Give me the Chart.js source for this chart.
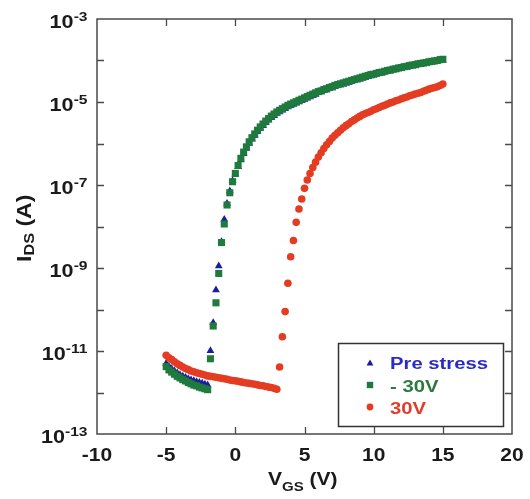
<!DOCTYPE html>
<html><head><meta charset="utf-8">
<script src="https://cdn.jsdelivr.net/npm/chart.js@4.4.1/dist/chart.umd.min.js"></script>
<style>html,body{margin:0;padding:0;background:#fff;}</style>
</head><body>
<canvas id="c" width="530" height="499"></canvas>
<script>
// ---- data ----
const vgs = [-5,-4.8,-4.6,-4.4,-4.2,-4,-3.8,-3.6,-3.4,-3.2,-3,-2.8,-2.6,-2.4,-2.2,-2,-1.8,-1.6,-1.4,-1.2,-1,-0.8,-0.6,-0.4,-0.2,
  0,0.2,0.4,0.6,0.8,1,1.2,1.4,1.6,1.8,2,2.2,2.4,2.6,2.8,3,3.2,3.4,3.6,3.8,4,4.2,4.4,4.6,4.8,5,5.2,5.4,5.6,5.8,
  6,6.2,6.4,6.6,6.8,7,7.2,7.4,7.6,7.8,8,8.2,8.4,8.6,8.8,9,9.2,9.4,9.6,9.8,10,10.2,10.4,10.6,10.8,11,11.2,11.4,11.6,11.8,
  12,12.2,12.4,12.6,12.8,13,13.2,13.4,13.6,13.8,14,14.2,14.4,14.6,14.8,15];

const preStress = [5.0e-12,4.27e-12,3.72e-12,3.31e-12,2.95e-12,2.69e-12,2.45e-12,2.29e-12,2.14e-12,2.0e-12,1.91e-12,1.82e-12,1.74e-12,1.66e-12,1.58e-12,1.51e-12,
  1.02e-11,4.8e-11,2.95e-10,1.12e-9,4.3e-9,1.48e-8,3.6e-8,7.2e-8,1.26e-7,
  1.82e-7,2.75e-7,4.0e-7,5.65e-7,7.6e-7,1.0e-6,1.26e-6,1.55e-6,1.91e-6,2.29e-6,
  2.69e-6,3.16e-6,3.63e-6,4.17e-6,4.68e-6,5.25e-6,5.75e-6,6.31e-6,6.92e-6,7.59e-6,
  8.13e-6,8.71e-6,9.3e-6,1.0e-5,1.07e-5,1.15e-5,1.23e-5,1.32e-5,1.41e-5,1.51e-5,
  1.66e-5,1.74e-5,1.87e-5,1.95e-5,2.09e-5,2.18e-5,2.34e-5,2.45e-5,2.57e-5,2.69e-5,
  2.82e-5,2.95e-5,3.09e-5,3.24e-5,3.39e-5,3.55e-5,3.71e-5,3.89e-5,4.08e-5,4.26e-5,
  4.47e-5,4.68e-5,4.9e-5,5.01e-5,5.25e-5,5.49e-5,5.62e-5,5.89e-5,6.03e-5,6.31e-5,
  6.46e-5,6.76e-5,6.91e-5,7.25e-5,7.41e-5,7.58e-5,7.95e-5,8.13e-5,8.32e-5,8.51e-5,
  8.91e-5,9.12e-5,9.33e-5,9.55e-5,1.0e-4,1.02e-4];

const minus30V = [4.2e-12,3.5e-12,3.1e-12,2.75e-12,2.45e-12,2.24e-12,2.04e-12,1.9e-12,1.74e-12,1.62e-12,1.51e-12,1.45e-12,1.35e-12,1.29e-12,1.23e-12,1.17e-12,
  6.5e-12,4.0e-11,1.45e-10,7.4e-10,4.1e-9,1.15e-8,3.3e-8,6.5e-8,1.2e-7,
  1.9e-7,2.95e-7,4.4e-7,6.2e-7,8.3e-7,1.1e-6,1.38e-6,1.7e-6,2.09e-6,2.51e-6,
  2.95e-6,3.47e-6,3.98e-6,4.57e-6,5.13e-6,5.75e-6,6.31e-6,6.92e-6,7.59e-6,8.32e-6,
  8.91e-6,9.55e-6,1.02e-5,1.1e-5,1.17e-5,1.26e-5,1.35e-5,1.45e-5,1.55e-5,1.66e-5,
  1.78e-5,1.86e-5,2.0e-5,2.09e-5,2.24e-5,2.34e-5,2.51e-5,2.63e-5,2.75e-5,2.88e-5,
  3.02e-5,3.16e-5,3.31e-5,3.47e-5,3.63e-5,3.8e-5,3.98e-5,4.17e-5,4.37e-5,4.57e-5,
  4.68e-5,4.9e-5,5.13e-5,5.25e-5,5.5e-5,5.75e-5,5.89e-5,6.17e-5,6.31e-5,6.61e-5,
  6.76e-5,7.08e-5,7.24e-5,7.59e-5,7.76e-5,7.94e-5,8.32e-5,8.51e-5,8.71e-5,8.91e-5,
  9.33e-5,9.55e-5,9.77e-5,1.0e-4,1.05e-4,1.07e-4];

const plus30V = [7.9e-12,6.9e-12,6.2e-12,5.5e-12,4.9e-12,4.5e-12,4.1e-12,3.8e-12,3.55e-12,3.3e-12,
  3.16e-12,3.0e-12,2.88e-12,2.75e-12,2.63e-12,2.51e-12,2.45e-12,2.4e-12,2.34e-12,2.27e-12,
  2.19e-12,2.14e-12,2.09e-12,2.0e-12,1.95e-12,
  1.91e-12,1.86e-12,1.8e-12,1.74e-12,1.7e-12,1.66e-12,1.62e-12,1.58e-12,1.53e-12,1.48e-12,
  1.45e-12,1.4e-12,1.35e-12,1.32e-12,1.26e-12,1.2e-12,4.1e-12,2.2e-11,8.9e-11,4.3e-10,
  1.86e-9,4.6e-9,1.26e-8,2.63e-8,4.6e-8,8.3e-8,1.32e-7,1.9e-7,2.63e-7,3.55e-7,
  4.7e-7,6.0e-7,7.6e-7,9.3e-7,1.12e-6,1.35e-6,1.58e-6,1.82e-6,2.09e-6,2.4e-6,
  2.69e-6,3.0e-6,3.4e-6,3.7e-6,4.1e-6,4.5e-6,4.9e-6,5.25e-6,5.6e-6,6.0e-6,
  6.5e-6,6.9e-6,7.4e-6,7.9e-6,8.3e-6,8.9e-6,9.5e-6,1.0e-5,1.07e-5,1.12e-5,
  1.2e-5,1.26e-5,1.32e-5,1.41e-5,1.48e-5,1.55e-5,1.62e-5,1.7e-5,1.82e-5,1.91e-5,
  2.04e-5,2.14e-5,2.24e-5,2.34e-5,2.5e-5,2.7e-5];

const seriesNames = ['Pre stress', '- 30V', '30V'];
const xTickValues = [-10, -5, 0, 5, 10, 15, 20];
const yLabelExponents = [-3, -5, -7, -9, -11, -13];
const yTickExponents = [-12, -11, -10, -9, -8, -7, -6, -5, -4];

// ---- styles ----
const markerColors = ['#1b1b9e', '#1f7a3d', '#e43c22'];
const legendTextColors = ['#2a2ac8', '#2a7a40', '#e03c2c'];
const FONT = '"Liberation Sans", Arial, sans-serif';

function toPoints(xs, ys) { return xs.map((v, i) => ({ x: v, y: ys[i] })); }

function drawText(ctx, s, x, y, size, sx, align, color) {
  ctx.save();
  ctx.font = 'bold ' + size + 'px ' + FONT;
  ctx.fillStyle = color;
  ctx.textBaseline = 'alphabetic';
  ctx.textAlign = 'left';
  const w = ctx.measureText(s).width * sx;
  const x0 = align === 'center' ? x - w / 2 : (align === 'right' ? x - w : x);
  ctx.translate(x0, y);
  ctx.scale(sx, 1);
  ctx.fillText(s, 0, 0);
  ctx.restore();
  return w;
}
function marker(ctx, type, x, y, color) {
  ctx.save(); ctx.fillStyle = color; ctx.beginPath();
  if (type === 'triangle') {
    ctx.moveTo(x, y - 3.6); ctx.lineTo(x + 3.4, y + 2.6); ctx.lineTo(x - 3.4, y + 2.6); ctx.closePath();
  } else if (type === 'rect') {
    ctx.rect(x - 3.2, y - 3.2, 6.4, 6.4);
  } else {
    ctx.arc(x, y, 3.4, 0, Math.PI * 2);
  }
  ctx.fill(); ctx.restore();
}

const decor = {
  id: 'decor',
  afterDraw(chart) {
    const { ctx, chartArea: a, scales: { x, y } } = chart;
    const ink = '#1a1a1a';
    ctx.save();
    // frame
    ctx.strokeStyle = '#4a4a4a'; ctx.lineWidth = 1.5;
    ctx.strokeRect(a.left, a.top, a.right - a.left, a.bottom - a.top);
    // inward ticks
    ctx.beginPath();
    xTickValues.forEach(v => {
      const px = Math.round(x.getPixelForValue(v)) + 0.5;
      if (v > -10 && v < 20) {
        ctx.moveTo(px, a.bottom); ctx.lineTo(px, a.bottom - 7);
        ctx.moveTo(px, a.top); ctx.lineTo(px, a.top + 7);
      }
    });
    yTickExponents.forEach(e => {
      const py = Math.round(y.getPixelForValue(Math.pow(10, e))) + 0.5;
      ctx.moveTo(a.left, py); ctx.lineTo(a.left + 7, py);
      ctx.moveTo(a.right, py); ctx.lineTo(a.right - 7, py);
    });
    ctx.lineWidth = 1.3; ctx.stroke();

    // x tick labels
    xTickValues.forEach(v => {
      drawText(ctx, String(v), x.getPixelForValue(v), a.bottom + 27, 17.5, 1.2, 'center', ink);
    });
    // y tick labels 10^e
    yLabelExponents.forEach(e => {
      const py = y.getPixelForValue(Math.pow(10, e));
      const supW = drawText(ctx, String(e), a.left - 9.5, py + 1.5, 13, 1.2, 'right', ink);
      drawText(ctx, '10', a.left - 9.5 - supW, py + 9.3, 18, 1.2, 'right', ink);
    });

    // x title V_GS (V)
    let cx = 268;
    cx += drawText(ctx, 'V', cx, 485, 17.5, 1.2, 'left', ink);
    cx += drawText(ctx, 'GS', cx, 490.5, 12.5, 1.2, 'left', ink);
    drawText(ctx, ' (V)', cx, 485, 17.5, 1.2, 'left', ink);

    // y title I_DS (A), rotated
    ctx.save();
    ctx.translate(30.5, 262);
    ctx.rotate(-Math.PI / 2);
    ctx.scale(1.25, 1.13);
    ctx.fillStyle = ink; ctx.textBaseline = 'alphabetic'; ctx.textAlign = 'left';
    let lx = 0;
    ctx.font = 'bold 18.5px ' + FONT; ctx.fillText('I', lx, 0); lx += ctx.measureText('I').width;
    ctx.font = 'bold 13px ' + FONT; ctx.fillText('DS', lx, 3); lx += ctx.measureText('DS').width;
    ctx.font = 'bold 18.5px ' + FONT; ctx.fillText(' (A)', lx, 0);
    ctx.restore();

    // legend
    ctx.strokeStyle = '#333'; ctx.lineWidth = 1.5;
    ctx.strokeRect(338.5, 343.5, 165, 83);
    const types = ['triangle', 'rect', 'circle'];
    const rows = [363, 385, 407];
    const bases = [368.5, 391.5, 414];
    seriesNames.forEach((n, i) => {
      marker(ctx, types[i], 370, rows[i], markerColors[i]);
      drawText(ctx, n, 390, bases[i], 17.2, 1.18, 'left', legendTextColors[i]);
    });
    ctx.restore();
  }
};

new Chart(document.getElementById('c'), {
  type: 'scatter',
  data: {
    datasets: [
      { label: seriesNames[0], data: toPoints(vgs, preStress), pointStyle: 'triangle', pointRadius: 4.5,
        backgroundColor: markerColors[0], borderColor: markerColors[0], borderWidth: 0, order: 3 },
      { label: seriesNames[1], data: toPoints(vgs, minus30V), pointStyle: 'rect', pointRadius: 5,
        backgroundColor: markerColors[1], borderColor: markerColors[1], borderWidth: 0, order: 2 },
      { label: seriesNames[2], data: toPoints(vgs, plus30V), pointStyle: 'circle', pointRadius: 3.8,
        backgroundColor: markerColors[2], borderColor: markerColors[2], borderWidth: 0, order: 1 }
    ]
  },
  options: {
    responsive: false,
    devicePixelRatio: 1,
    animation: false,
    layout: { padding: { left: 97, top: 19, right: 18, bottom: 65 } },
    plugins: { legend: { display: false }, tooltip: { enabled: false } },
    scales: {
      x: { type: 'linear', min: -10, max: 20, display: false },
      y: { type: 'logarithmic', min: 1e-13, max: 1e-3, display: false }
    }
  },
  plugins: [decor]
});
</script>
</body></html>
